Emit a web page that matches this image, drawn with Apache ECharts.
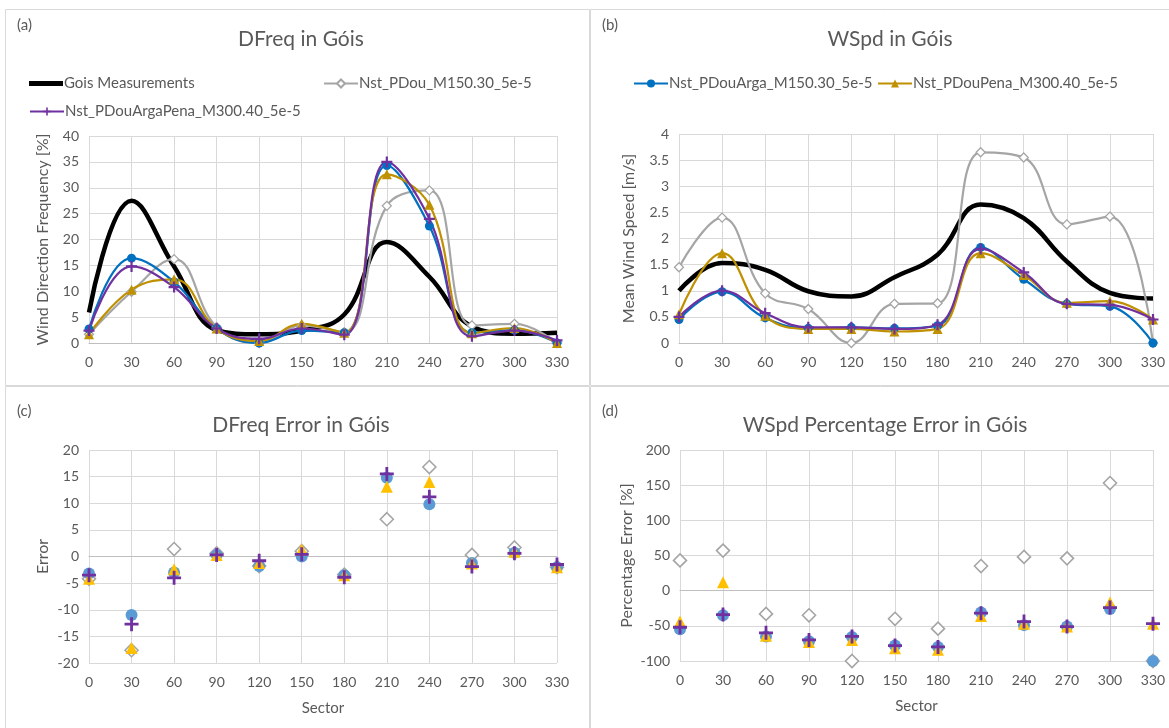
<!DOCTYPE html>
<html>
<head>
<meta charset="utf-8">
<script src="https://cdn.jsdelivr.net/npm/echarts@6/dist/echarts.min.js"></script>
<style>html,body{margin:0;padding:0;background:#fff;}#c{width:1169px;height:728px;}</style>
</head>
<body>
<div id="c"></div>
<script>
// ---- data ----
const sectors = [0, 30, 60, 90, 120, 150, 180, 210, 240, 270, 300, 330];
const names = ['Gois Measurements', 'Nst_PDou_M150.30_5e-5', 'Nst_PDouArga_M150.30_5e-5', 'Nst_PDouPena_M300.40_5e-5', 'Nst_PDouArgaPena_M300.40_5e-5'];
// (a) wind direction frequency [%]
const measFreq     = [5.9, 27.5, 14.8, 2.5, 1.7, 2.4, 5.5, 19.5, 12.8, 3.2, 1.8, 2.0];
const pdouFreq     = [1.7, 9.9, 16.2, 3.1, 0.0, 3.4, 2.1, 26.5, 29.5, 3.4, 3.7, 0.0];
const argaFreq     = [2.7, 16.4, 11.8, 2.8, 0.0, 2.4, 2.0, 34.3, 22.6, 2.0, 2.5, 0.0];
const penaFreq     = [1.7, 10.3, 12.3, 2.8, 0.4, 3.7, 2.0, 32.6, 26.7, 1.9, 2.9, 0.0];
const argaPenaFreq = [2.4, 14.8, 10.8, 2.8, 0.8, 2.8, 1.6, 35.0, 24.0, 1.3, 2.4, 0.5];
// (b) mean wind speed [m/s]
const measSpd      = [1.0, 1.53, 1.4, 0.99, 0.89, 1.26, 1.69, 2.65, 2.39, 1.56, 0.96, 0.85];
const pdouSpd      = [1.45, 2.4, 0.95, 0.65, 0.0, 0.75, 0.76, 3.65, 3.55, 2.27, 2.42, 0.0];
const argaSpd      = [0.45, 0.98, 0.48, 0.28, 0.30, 0.28, 0.33, 1.83, 1.22, 0.75, 0.70, 0.0];
const penaSpd      = [0.55, 1.72, 0.52, 0.27, 0.27, 0.22, 0.27, 1.72, 1.30, 0.77, 0.80, 0.45];
const argaPenaSpd  = [0.50, 1.00, 0.57, 0.30, 0.30, 0.27, 0.35, 1.80, 1.35, 0.75, 0.73, 0.45];
// (c) DFreq error
const pdouErr      = [-4.2, -17.6, 1.4, 0.6, -1.8, 1.0, -3.4, 7.0, 16.8, 0.3, 1.7, -2.0];
const argaErr      = [-3.2, -11.0, -3.0, 0.3, -1.8, 0.0, -3.5, 14.8, 9.8, -1.2, 0.7, -2.0];
const penaErr      = [-4.2, -17.2, -2.4, 0.3, -1.2, 1.3, -3.5, 13.1, 14.0, -1.3, 0.9, -2.0];
const argaPenaErr  = [-3.5, -12.7, -4.0, 0.3, -0.8, 0.4, -3.9, 15.5, 11.2, -1.9, 0.6, -1.5];
// (d) WSpd percentage error [%]
const pdouPct      = [43, 57, -33, -35, -100, -40, -54, 35, 48, 46, 153, -100];
const argaPct      = [-55, -35, -65, -72, -66, -78, -80, -31, -49, -51, -26, -100];
const penaPct      = [-44, 12, -64, -73, -70, -82, -84, -36, -47, -51, -17, -47];
const argaPenaPct  = [-52, -34, -60, -70, -65, -78, -80, -32, -44, -51, -24, -47];

const pairs = arr => sectors.map((s, i) => [s, arr[i]]);

const FONT = 'Lato';
const TXT = '#595959';
const GRIDC = '#D9D9D9';
const AXC = '#BFBFBF';
const PLUS = 'path://M4,0H6V4H10V6H6V10H4V6H0V4H4Z';

const lineCol = { black: '#000000', gray: '#A5A5A5', blue: '#0070C0', gold: '#BF9000', purple: '#7030A0' };
const errCol = { gray: '#A5A5A5', blue: '#5B9BD5', gold: '#FFC000', purple: '#7030A0' };

const grids = [
  { left: 89, top: 136, width: 468, height: 207 },
  { left: 679, top: 134, width: 474, height: 209 },
  { left: 89, top: 450, width: 468, height: 213 },
  { left: 680, top: 450, width: 473, height: 211 }
];

function xAxisMain(gi, withName) {
  return {
    type: 'value', gridIndex: gi, min: 0, max: 330, interval: 30, position: 'bottom',
    axisLine: { show: gi < 2, onZero: false, lineStyle: { color: AXC } },
    axisTick: { show: false },
    axisLabel: { color: TXT, fontSize: 14, fontFamily: FONT, margin: 12 },
    splitLine: { show: true, lineStyle: { color: GRIDC } },
    name: withName ? 'Sector' : '', nameLocation: 'middle', nameGap: 38,
    nameTextStyle: { color: TXT, fontSize: 15, fontFamily: FONT }
  };
}
function xAxisZero(gi) {
  return {
    type: 'value', gridIndex: gi, min: 0, max: 330, interval: 30, position: 'top',
    axisLine: { show: true, onZero: true, lineStyle: { color: AXC } },
    axisTick: { show: false }, axisLabel: { show: false }, splitLine: { show: false }
  };
}
function yAxis(gi, min, max, interval, name, gap) {
  return {
    type: 'value', gridIndex: gi, min: min, max: max, interval: interval,
    axisLine: { show: false }, axisTick: { show: false },
    axisLabel: { color: TXT, fontSize: 14, fontFamily: FONT, margin: 10 },
    splitLine: { show: true, lineStyle: { color: GRIDC } },
    name: name, nameLocation: 'middle', nameGap: gap, nameRotate: 90,
    nameTextStyle: { color: TXT, fontSize: 16, fontFamily: FONT }
  };
}

function lineSeries(name, data, gi, color, width, symbol, size, hollow) {
  return {
    type: 'line', name: name, xAxisIndex: gi, yAxisIndex: gi, data: pairs(data),
    smooth: 0.42, symbol: symbol, symbolSize: size, showSymbol: symbol !== 'none',
    lineStyle: { color: color, width: width },
    itemStyle: hollow ? { color: '#ffffff', borderColor: color, borderWidth: 1.3 } : { color: color, borderWidth: 0 },
    emphasis: { disabled: true }, z: 2
  };
}
function scatterSeries(name, data, gi, color, symbol, size, hollow) {
  return {
    type: 'scatter', name: name, xAxisIndex: gi + 2, yAxisIndex: gi, data: pairs(data),
    symbol: symbol, symbolSize: size,
    itemStyle: hollow ? { color: '#ffffff', borderColor: color, borderWidth: 1.6, opacity: 1 } : { color: color, opacity: 1 },
    emphasis: { disabled: true }, z: 3
  };
}

const series = [
  lineSeries(names[0], measFreq, 0, lineCol.black, 4.5, 'none', 0, false),
  lineSeries(names[1], pdouFreq, 0, lineCol.gray, 2.2, 'diamond', 9, true),
  lineSeries(names[2], argaFreq, 0, lineCol.blue, 2.2, 'circle', 9, false),
  lineSeries(names[3], penaFreq, 0, lineCol.gold, 2.2, 'triangle', 10, false),
  lineSeries(names[4], argaPenaFreq, 0, lineCol.purple, 2.2, PLUS, 11, false),
  lineSeries(names[0], measSpd, 1, lineCol.black, 4.5, 'none', 0, false),
  lineSeries(names[1], pdouSpd, 1, lineCol.gray, 2.2, 'diamond', 9, true),
  lineSeries(names[2], argaSpd, 1, lineCol.blue, 2.2, 'circle', 9, false),
  lineSeries(names[3], penaSpd, 1, lineCol.gold, 2.2, 'triangle', 10, false),
  lineSeries(names[4], argaPenaSpd, 1, lineCol.purple, 2.2, PLUS, 11, false),
  scatterSeries(names[1], pdouErr, 2, errCol.gray, 'diamond', 13, true),
  scatterSeries(names[2], argaErr, 2, errCol.blue, 'circle', 12, false),
  scatterSeries(names[3], penaErr, 2, errCol.gold, 'triangle', 12, false),
  scatterSeries(names[4], argaPenaErr, 2, errCol.purple, PLUS, 14, false),
  scatterSeries(names[1], pdouPct, 3, errCol.gray, 'diamond', 13, true),
  scatterSeries(names[2], argaPct, 3, errCol.blue, 'circle', 12, false),
  scatterSeries(names[3], penaPct, 3, errCol.gold, 'triangle', 12, false),
  scatterSeries(names[4], argaPenaPct, 3, errCol.purple, PLUS, 14, false)
];

function legend(item, left, top, h) {
  return {
    data: [item], left: left, top: top, orient: 'horizontal', itemWidth: 34, itemHeight: h || 10, itemGap: 4,
    selectedMode: false, padding: 0,
    textStyle: { color: TXT, fontSize: 15, fontFamily: FONT, padding: [0, 0, 0, -4] }
  };
}

function txt(x, y, s, size, align) {
  return { type: 'text', left: x, top: y, style: { text: s, fill: TXT, font: size + 'px ' + FONT, textAlign: align || 'left' } };
}
const box = (x, y, w, h) => ({ type: 'rect', shape: { x: x, y: y, width: w, height: h }, style: { fill: 'none', stroke: GRIDC, lineWidth: 1 }, silent: true });
const titleStyle = { color: TXT, fontSize: 21, fontWeight: 'normal', fontFamily: FONT };

const option = {
  backgroundColor: '#ffffff',
  animation: false,
  textStyle: { fontFamily: FONT },
  title: [
    { text: 'DFreq in Góis', left: 296, top: 24, textAlign: 'center', textStyle: titleStyle },
    { text: 'WSpd in Góis', left: 885, top: 24, textAlign: 'center', textStyle: titleStyle },
    { text: 'DFreq Error in Góis', left: 296, top: 410, textAlign: 'center', textStyle: titleStyle },
    { text: 'WSpd Percentage Error in Góis', left: 880, top: 410, textAlign: 'center', textStyle: titleStyle }
  ],
  legend: [
    legend({ name: names[0], icon: 'rect' }, 29, 76, 5),
    legend(names[1], 323, 76),
    legend(names[4], 29, 104),
    legend(names[2], 633, 76),
    legend(names[3], 877, 76)
  ],
  grid: grids,
  xAxis: [xAxisMain(0, false), xAxisMain(1, false), xAxisMain(2, true), xAxisMain(3, true), xAxisZero(2), xAxisZero(3)],
  yAxis: [
    yAxis(0, 0, 40, 5, 'Wind Direction Frequency [%]', 38),
    yAxis(1, 0, 4, 0.5, 'Mean Wind Speed [m/s]', 42),
    yAxis(2, -20, 20, 5, 'Error', 38),
    yAxis(3, -100, 200, 50, 'Percentage Error [%]', 45)
  ],
  graphic: [
    box(5.5, 9.5, 584, 376),
    box(590.5, 9.5, 620, 376),
    box(5.5, 386.5, 584, 360),
    box(590.5, 386.5, 620, 360),
    txt(17, 18, '(a)', 15),
    txt(602, 18, '(b)', 15),
    txt(17, 404, '(c)', 15),
    txt(602, 404, '(d)', 15)
  ],
  series: series
};

const chart = echarts.init(document.getElementById('c'), null, { renderer: 'canvas', width: 1169, height: 728 });
chart.setOption(option);
</script>
</body>
</html>
